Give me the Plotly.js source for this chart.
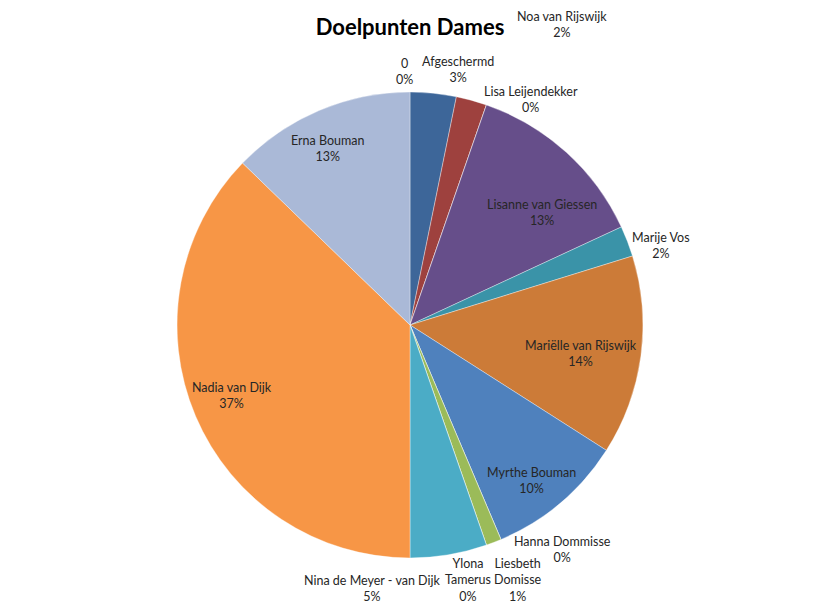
<!DOCTYPE html>
<html>
<head>
<meta charset="utf-8">
<script src="https://cdn.plot.ly/plotly-3.0.1.min.js"></script>
<style>html,body{margin:0;padding:0;background:#fff;}#chart{width:820px;height:608px;}</style>
</head>
<body>
<div id="chart"></div>
<script>
const players = ["0", "Afgeschermd", "Noa van Rijswijk", "Lisa Leijendekker", "Lisanne van Giessen", "Marije Vos", "Mariëlle van Rijswijk", "Myrthe Bouman", "Hanna Dommisse", "Liesbeth Domisse", "Ylona Tamerus", "Nina de Meyer - van Dijk", "Nadia van Dijk", "Erna Bouman"];
const goals = [0, 3, 2, 0, 12, 2, 13, 9, 0, 1, 0, 5, 35, 12];
const sliceColors = ["#E6B9B8", "#3D6699", "#9E413E", "#7F9A48", "#664E8A", "#3A93A8", "#CC7B38", "#4F81BD", "#C0504D", "#9BBB59", "#8064A2", "#4BACC6", "#F79646", "#AAB9D7"];
// label anchor positions (pixels from top-left), placed like the original chart's data labels
const labelX = [404, 458, 562, 531, 542, 661, 581, 531, 562, 518, 468, 372, 232, 328];
const labelY = [71.5, 69.5, 24.5, 99.5, 213, 245, 353, 481, 549.5, 580, 580, 588, 395, 148];
const wrappedNames = ["Liesbeth Domisse", "Ylona Tamerus"];

const W = 820, H = 608;
const total = goals.reduce((a, b) => a + b, 0);

const trace = {
  type: "pie",
  labels: players,
  values: goals,
  sort: false,
  direction: "clockwise",
  rotation: 0,
  marker: {colors: sliceColors, line: {color: "rgba(255,255,255,0.6)", width: 0.6}},
  textinfo: "none",
  hoverinfo: "label+percent",
  showlegend: false,
  domain: {x: [0.2159, 0.7841], y: [0.0822, 0.8487]}
};

const annotations = players.map((name, i) => {
  const shown = wrappedNames.includes(name) ? name.replace(" ", "<br>") : name;
  const pct = Math.round(goals[i] / total * 100) + "%";
  return {
    xref: "paper", yref: "paper",
    x: labelX[i] / W, y: 1 - labelY[i] / H,
    xanchor: "center", yanchor: "middle",
    text: shown + "<br>" + pct,
    showarrow: false,
    align: "center",
    font: {family: "Lato, 'Open Sans', sans-serif", size: 12.5, color: "#262626"}
  };
});

const layout = {
  width: W, height: H,
  margin: {l: 0, r: 0, t: 0, b: 0},
  paper_bgcolor: "#ffffff",
  title: {text: "<b>Doelpunten Dames</b>", x: 0.5, xanchor: "center", y: 0.955, yanchor: "middle",
          font: {family: "Lato, 'Open Sans', sans-serif", size: 22, color: "#000000"}},
  showlegend: false,
  annotations: annotations
};

Plotly.newPlot("chart", [trace], layout, {displayModeBar: false, staticPlot: true});
</script>
</body>
</html>
